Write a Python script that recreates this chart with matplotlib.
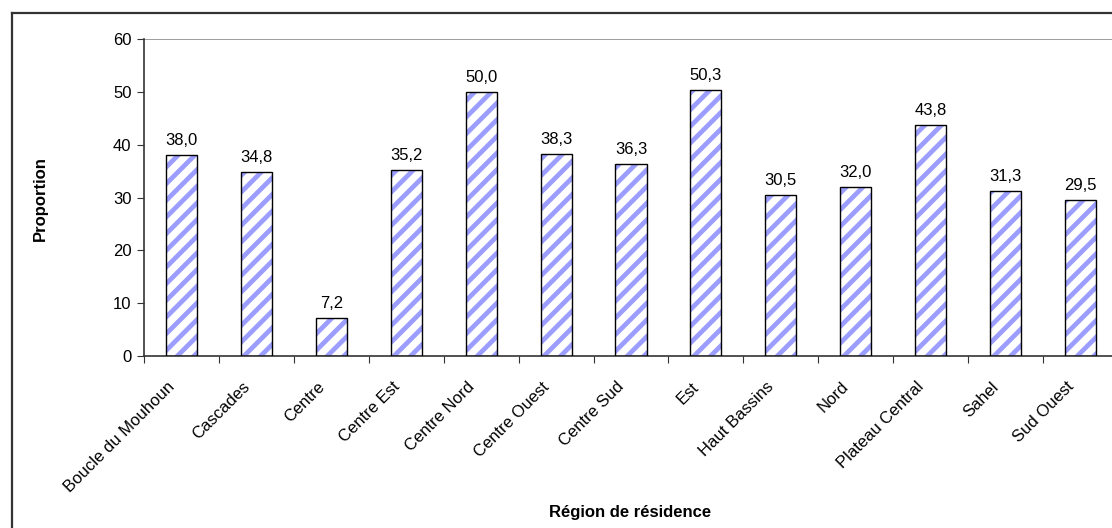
import matplotlib
matplotlib.use("Agg")
import matplotlib.pyplot as plt
from matplotlib.lines import Line2D
import numpy as np

regions = ["Boucle du Mouhoun", "Cascades", "Centre", "Centre Est", "Centre Nord",
           "Centre Ouest", "Centre Sud", "Est", "Haut Bassins", "Nord",
           "Plateau Central", "Sahel", "Sud Ouest"]
proportion = [38.0, 34.8, 7.2, 35.2, 50.0, 38.3, 36.3, 50.3, 30.5, 32.0, 43.8, 31.3, 29.5]
y_ticks = [0, 10, 20, 30, 40, 50, 60]

plt.rcParams["font.family"] = ["Liberation Sans", "DejaVu Sans"]
plt.rcParams["hatch.linewidth"] = 3.4

fig = plt.figure(figsize=(11.12, 5.28), dpi=100)
ax = fig.add_axes([144 / 1112, 1 - 356 / 528, (1118 - 144) / 1112, (356 - 39) / 528])

x = np.arange(len(regions))
width = 0.415
# striped fill
ax.bar(x, proportion, width=width, color="white", edgecolor="#9c9eff",
       hatch="//", linewidth=0, zorder=2)
# black outline
ax.bar(x, proportion, width=width, fill=False, edgecolor="black",
       linewidth=1.0, zorder=3)

for xi, v in zip(x, proportion):
    ax.annotate(f"{v:.1f}".replace(".", ","), (xi, v), xytext=(0, 5),
                textcoords="offset points", ha="center", va="bottom",
                fontsize=12, color="black")

ax.set_xlim(-0.5, len(regions) - 0.5)
ax.set_ylim(0, 60)
ax.set_yticks(y_ticks)
ax.set_yticklabels([str(t) for t in y_ticks], fontsize=12)
ax.axhline(60, color="#8c8c8c", linewidth=1.2, zorder=1)

# ticks sit between categories; names are placed under each bar
ax.set_xticks(np.arange(len(regions) + 1) - 0.5)
ax.set_xticklabels([])
for xi, name in zip(x, regions):
    ax.annotate(name, (xi, 0), xycoords=("data", "axes fraction"),
                xytext=(-6.7, -20.5), textcoords="offset points",
                rotation=45, ha="right", va="center", rotation_mode="anchor",
                fontsize=12, annotation_clip=False)
ax.tick_params(axis="x", length=5, direction="out", color="#333333")
ax.tick_params(axis="y", length=5, direction="out", color="#333333", pad=4)

for s in ["top", "right"]:
    ax.spines[s].set_visible(False)
for s in ["left", "bottom"]:
    ax.spines[s].set_color("#333333")
    ax.spines[s].set_linewidth(1.2)

fig.text(40 / 1112, 1 - 199 / 528, "Proportion", fontsize=12, fontweight="bold",
         rotation=90, ha="center", va="center")
fig.text(630 / 1112, 1 - 512 / 528, "Région de résidence", fontsize=12,
         fontweight="bold", ha="center", va="center")

# chart frame
fig.add_artist(Line2D([12 / 1112, 12 / 1112], [0, 1 - 13 / 528],
                      transform=fig.transFigure, color="#333333", linewidth=1.6))
fig.add_artist(Line2D([12 / 1112, 1], [1 - 13 / 528, 1 - 13 / 528],
                      transform=fig.transFigure, color="#333333", linewidth=1.6))

fig.savefig("out.png", dpi=100)
